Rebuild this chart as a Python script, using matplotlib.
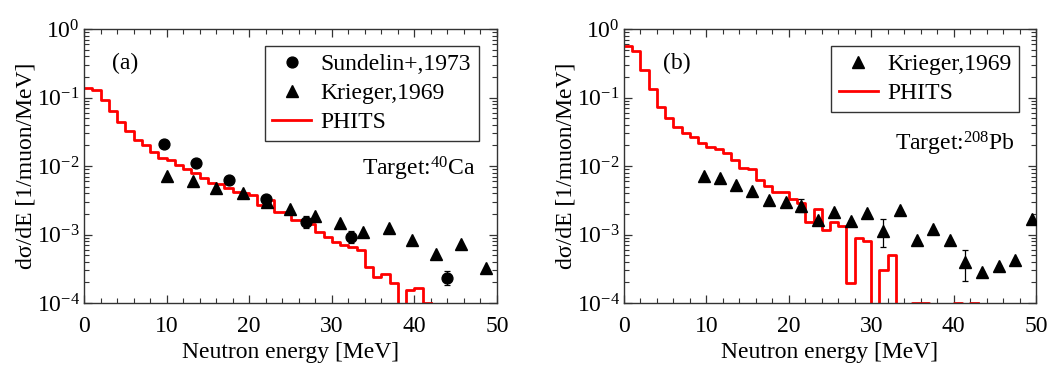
import numpy as np
import matplotlib
matplotlib.use("Agg")
import matplotlib.pyplot as plt
from matplotlib.lines import Line2D
from matplotlib.ticker import MultipleLocator, LogLocator, NullFormatter

plt.rcParams['font.family'] = ['Liberation Serif', 'DejaVu Serif']
plt.rcParams['mathtext.fontset'] = 'custom'
plt.rcParams['mathtext.rm'] = 'Liberation Serif'
plt.rcParams['mathtext.it'] = 'Liberation Serif:italic'
plt.rcParams['mathtext.bf'] = 'Liberation Serif:bold'

# ---------------- data ----------------
# PHITS histogram, 1-MeV bins starting at 0 MeV
phits_ca = [0.137, 0.1295, 0.0924, 0.0638, 0.0445, 0.0325, 0.0240, 0.0203, 0.0162, 0.0129,
            0.01224, 0.01034, 0.00904, 0.00781, 0.00675, 0.00570, 0.00539, 0.00471, 0.00421, 0.00398,
            0.00376, 0.00269, 0.00318, 0.00215, 0.00215, 0.00162, 0.00162, 0.00142, 0.00109, 0.000924,
            0.000781, 0.000698, 0.000660, 0.000590, 0.000336, 0.000240, 0.000263, 0.000196, 0.0, 0.000157,
            0.000168, 0.000100]
phits_pb = [0.570, 0.471, 0.254, 0.1324, 0.0722, 0.0498, 0.0368, 0.0301, 0.0269, 0.0215,
            0.0192, 0.0177, 0.0153, 0.01224, 0.00924, 0.00894, 0.00624, 0.00510, 0.00421, 0.00421,
            0.00325, 0.00284, 0.00153, 0.00232, 0.00118, 0.00153, 0.00132, 0.000196, 0.000904, 0.000808,
            0.0, 0.000301, 0.000498, 0.0, 0.0, 0.000100, 0.000100, 0.0, 0.0, 0.0,
            0.000100, 0.0, 0.000100]

# Sundelin+,1973 (40Ca)
sund_e = [9.65, 13.5, 17.55, 22.0, 26.9, 32.3, 43.9]
sund_v = [0.021, 0.0112, 0.0062, 0.0033, 0.00153, 0.00092, 0.000232]
sund_lo = [0.0200, 0.0107, 0.0059, 0.00315, 0.00125, 0.00075, 0.000183]
sund_hi = [0.0220, 0.0117, 0.0065, 0.00345, 0.00187, 0.00112, 0.000294]

# Krieger,1969 (40Ca)
krca_e = [10.1, 13.2, 16.0, 19.2, 22.1, 24.9, 28.0, 30.95, 33.8, 36.9, 39.75, 42.65, 45.6, 48.7]
krca_v = [0.0072, 0.0060, 0.0047, 0.0040, 0.0030, 0.00238, 0.00186, 0.00148, 0.0011, 0.00126,
          0.00083, 0.00052, 0.00072, 0.00032]

# Krieger,1969 (208Pb)
krpb_e = [9.75, 11.65, 13.55, 15.57, 17.64, 19.7, 21.5, 23.5, 25.5, 27.6, 29.45, 31.4, 33.5,
          35.5, 37.5, 39.6, 41.4, 43.5, 45.5, 47.45, 49.55]
krpb_v = [0.0072, 0.0066, 0.0053, 0.00435, 0.0032, 0.0030, 0.00263, 0.00162, 0.0021, 0.00158,
          0.00207, 0.00113, 0.00227, 0.00083, 0.00121, 0.00083, 0.00040, 0.00028, 0.00035,
          0.00042, 0.0017]
krpb_lo = [0.0072, 0.0066, 0.0053, 0.00435, 0.0032, 0.0030, 0.00212, 0.00162, 0.0021, 0.00158,
           0.00207, 0.00065, 0.00227, 0.00083, 0.00121, 0.00083, 0.00021, 0.00028, 0.00035,
           0.00042, 0.0017]
krpb_hi = [0.0072, 0.0066, 0.0053, 0.00435, 0.0032, 0.0030, 0.00325, 0.00162, 0.0021, 0.00158,
           0.00207, 0.00166, 0.00227, 0.00083, 0.00121, 0.00083, 0.00060, 0.00028, 0.00035,
           0.00042, 0.0017]

xlabel = 'Neutron energy [MeV]'
ylabel = 'd\u03c3/dE [1/muon/MeV]'

FS = 17
MS_C = 7.8
MS_T = 9.2
W, H = 1051, 370
fig = plt.figure(figsize=(W / 100, H / 100), dpi=100)
axA = fig.add_axes([84 / W, 67 / H, 413 / W, 274 / H])
axB = fig.add_axes([624 / W, 67 / H, 412 / W, 274 / H])


def style(ax):
    ax.set_yscale('log', nonpositive='clip')
    ax.set_xlim(0, 50)
    ax.set_ylim(1e-4, 1)
    ax.xaxis.set_major_locator(MultipleLocator(10))
    ax.xaxis.set_minor_locator(MultipleLocator(2))
    ax.yaxis.set_major_locator(LogLocator(base=10, numticks=10))
    ax.yaxis.set_minor_locator(LogLocator(base=10, subs=np.arange(2, 10), numticks=20))
    ax.yaxis.set_minor_formatter(NullFormatter())
    ax.tick_params(which='both', direction='in', top=True, right=True, color='#333333')
    ax.tick_params(which='major', length=6, width=0.9)
    ax.tick_params(which='minor', length=3.5, width=0.8)
    ax.tick_params(axis='x', which='major', pad=9, labelsize=FS)
    ax.tick_params(axis='y', which='major', pad=3, labelsize=FS)
    for s in ax.spines.values():
        s.set_linewidth(1.0)
        s.set_color('#333333')
    ax.set_xlabel(xlabel, fontsize=FS, labelpad=4)
    ax.set_ylabel(ylabel, fontsize=FS, labelpad=0)


def legend(ax, handles, anchor):
    leg = ax.legend(handles=handles, loc='upper right', bbox_to_anchor=anchor, fontsize=FS,
                    frameon=True, fancybox=False, edgecolor='#333333', framealpha=1,
                    borderpad=0.32, labelspacing=0.32, handlelength=1.65, handletextpad=0.4,
                    borderaxespad=0)
    leg.get_frame().set_linewidth(1.0)
    return leg


h_sund = Line2D([], [], ls='none', marker='o', color='black', ms=MS_C, label='Sundelin+,1973')
h_krie = Line2D([], [], ls='none', marker='^', color='black', ms=MS_T, label='Krieger,1969')
h_phit = Line2D([], [], color='red', lw=2.0, label='PHITS')

# ---- panel (a) ----
style(axA)
e1 = np.array(sund_v) - np.array(sund_lo)
e2 = np.array(sund_hi) - np.array(sund_v)
axA.errorbar(sund_e, sund_v, yerr=[e1, e2], fmt='o', color='black', ms=MS_C,
             capsize=2.0, elinewidth=0.9, capthick=0.9, zorder=3)
axA.plot(krca_e, krca_v, '^', color='black', ms=MS_T, zorder=3)
edges = np.arange(len(phits_ca) + 1)
axA.step(edges, np.append(phits_ca, phits_ca[-1]), where='post', color='red', lw=2.0, zorder=2)
axA.text(0.068, 0.876, '(a)', transform=axA.transAxes, fontsize=FS, ha='left', va='center')
axA.text(0.949, 0.467, 'Target:$^{40}$Ca', transform=axA.transAxes, fontsize=FS,
         ha='right', va='baseline')
legend(axA, [h_sund, h_krie, h_phit], (0.956, 0.938))

# ---- panel (b) ----
style(axB)
e1 = np.array(krpb_v) - np.array(krpb_lo)
e2 = np.array(krpb_hi) - np.array(krpb_v)
axB.errorbar(krpb_e, krpb_v, yerr=[e1, e2], fmt='^', color='black', ms=MS_T,
             capsize=2.5, elinewidth=0.9, capthick=0.9, zorder=3)
edges = np.arange(len(phits_pb) + 1)
axB.step(edges, np.append(phits_pb, phits_pb[-1]), where='post', color='red', lw=2.0, zorder=2)
axB.text(0.095, 0.876, '(b)', transform=axB.transAxes, fontsize=FS, ha='left', va='center')
axB.text(0.949, 0.558, 'Target:$^{208}$Pb', transform=axB.transAxes, fontsize=FS,
         ha='right', va='baseline')
legend(axB, [h_krie, h_phit], (0.959, 0.938))

fig.savefig('out.png', dpi=100)
